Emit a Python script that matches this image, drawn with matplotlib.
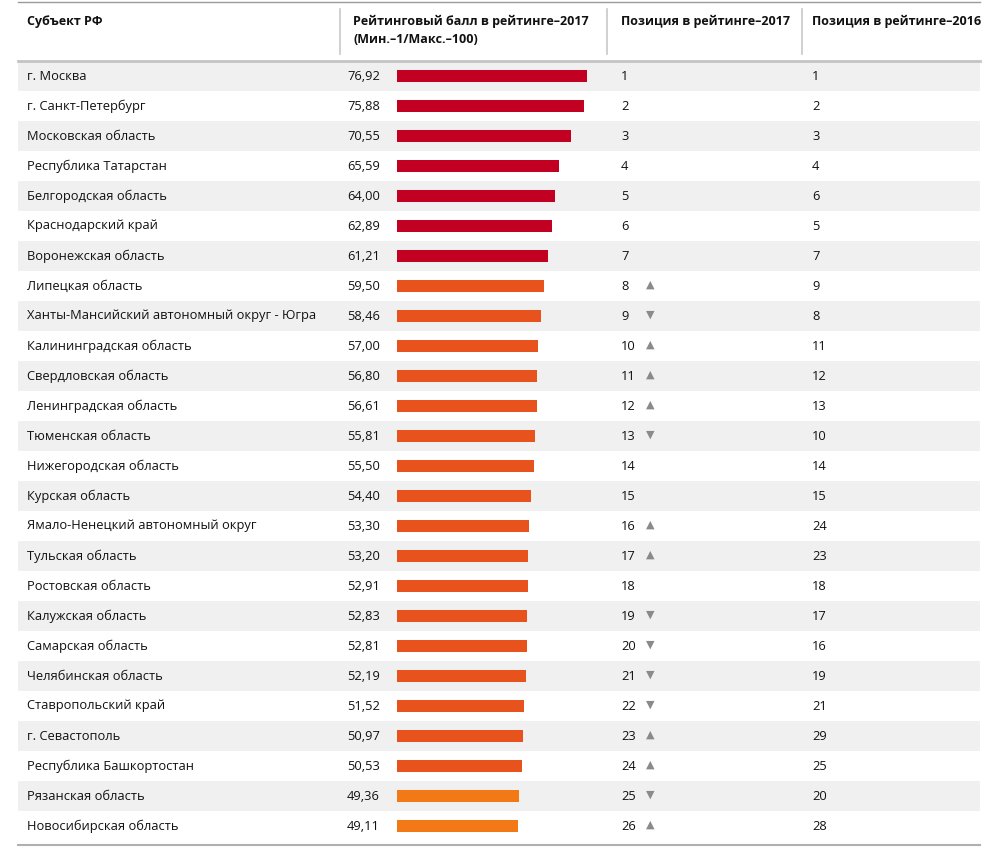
import numpy as np
import matplotlib.pyplot as plt

plt.rcParams['font.family'] = ['Open Sans', 'DejaVu Sans']

regions = ["г. Москва", "г. Санкт-Петербург", "Московская область", "Республика Татарстан",
           "Белгородская область", "Краснодарский край", "Воронежская область", "Липецкая область",
           "Ханты-Мансийский автономный округ - Югра", "Калининградская область",
           "Свердловская область", "Ленинградская область", "Тюменская область",
           "Нижегородская область", "Курская область", "Ямало-Ненецкий автономный округ",
           "Тульская область", "Ростовская область", "Калужская область", "Самарская область",
           "Челябинская область", "Ставропольский край", "г. Севастополь",
           "Республика Башкортостан", "Рязанская область", "Новосибирская область"]
scores = [76.92, 75.88, 70.55, 65.59, 64.00, 62.89, 61.21, 59.50, 58.46, 57.00, 56.80, 56.61,
          55.81, 55.50, 54.40, 53.30, 53.20, 52.91, 52.83, 52.81, 52.19, 51.52, 50.97, 50.53,
          49.36, 49.11]
pos2017 = list(range(1, 27))
pos2016 = [1, 2, 3, 4, 6, 5, 7, 9, 8, 11, 12, 13, 10, 14, 15, 24, 23, 18, 17, 16, 19, 21, 29,
           25, 20, 28]
# arrows as printed in the table
trend = ['', '', '', '', '', '', '', '▲', '▼', '▲', '▲', '▲', '▼', '', '', '▲', '▲', '',
         '▼', '▼', '▼', '▼', '▲', '▲', '▼', '▲']
headers = ["Субъект РФ", "Рейтинговый балл в рейтинге–2017\n(Мин.–1/Макс.–100)",
           "Позиция в рейтинге–2017", "Позиция в рейтинге–2016"]

W, H = 1005, 847
fig = plt.figure(figsize=(W / 100, H / 100), dpi=100)
ax = fig.add_axes([0, 0, 1, 1])
ax.set_xlim(0, W)
ax.set_ylim(H, 0)
ax.axis('off')

row0, pitch = 76, 30
rows_y = [row0 + pitch * i for i in range(len(regions))]

# gray stripes
for i, y in enumerate(rows_y):
    if i % 2 == 0:
        ax.add_patch(plt.Rectangle((18, y - 15), 962, 30, color='#f0f0f0', lw=0, zorder=0))

# rules
ax.plot([18, 980], [2, 2], color='#9a9a9a', lw=1)
ax.plot([18, 980], [61, 61], color='#c4c4c4', lw=2)
ax.plot([18, 980], [845, 845], color='#b0b0b0', lw=1.5)
for x in [340, 607, 802]:
    ax.plot([x, x], [9, 54], color='#c8c8c8', lw=1.2)

# header
hx = [27, 353, 621, 812]
for x, h in zip(hx, headers):
    ax.text(x, 15, h, fontsize=9.0, fontweight='bold', va='top', ha='left', color='#111111',
            linespacing=1.5)

colors = ['#c20021'] * 7 + ['#e8521c'] * 17 + ['#f27915'] * 2

for i, y in enumerate(rows_y):
    ax.text(27, y, regions[i], fontsize=9.3, va='center', ha='left', color='#111111')
    ax.text(347, y, f"{scores[i]:.2f}".replace('.', ','), fontsize=9.3, va='center',
            ha='left', color='#111111')
    ax.text(621, y, str(pos2017[i]), fontsize=9.3, va='center', ha='left', color='#111111')
    ax.text(812, y, str(pos2016[i]), fontsize=9.3, va='center', ha='left', color='#111111')
    if trend[i]:
        ax.text(650, y - 1, trend[i], fontsize=8, va='center', ha='center', color='#8a8a8a',
                family='DejaVu Sans')

# bars on their own value axis: 0..100 spans 247 px starting at x=397
bx = fig.add_axes([397 / W, 0, 247 / W, 1])
bx.set_xlim(0, 100)
bx.set_ylim(H, 0)
bx.axis('off')
bx.patch.set_alpha(0)
bx.barh(rows_y, scores, height=12, color=colors, left=0)

fig.savefig('out.png', dpi=100)
